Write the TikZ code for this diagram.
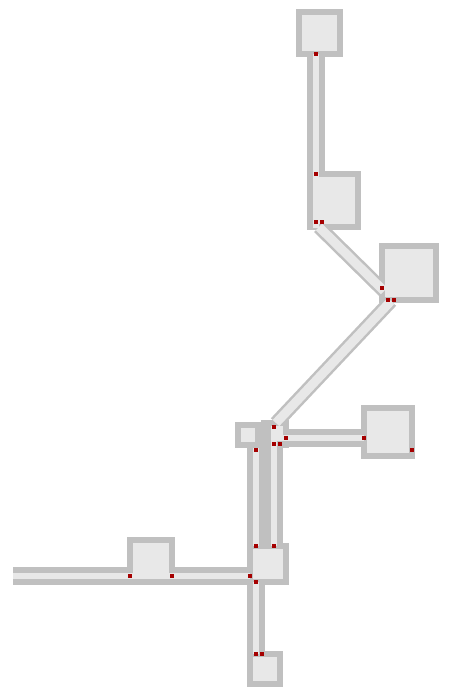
\documentclass[tikz,border=0pt]{standalone}
\definecolor{wallgray}{RGB}{192,192,192}
\definecolor{floorgray}{RGB}{232,232,232}
\definecolor{doorred}{RGB}{165,0,0}
\tikzset{
  corrwall/.style={draw=wallgray, line width=18pt},
  corrfloor/.style={draw=floorgray, line width=6.5pt},
  diagwall/.style={draw=wallgray, line width=14pt},
  diagfloor/.style={draw=floorgray, line width=9pt},
  roomwall/.style={fill=wallgray},
  roomfloor/.style={fill=floorgray},
  door/.style={fill=doorred}
}
\newcommand{\roomat}[4]{%
  \fill[roomwall] (#1,#2) rectangle (#3,#4);}
\newcommand{\roomin}[4]{%
  \fill[roomfloor] ({#1+6},{#2+6}) rectangle ({#3-6},{#4-6});}
\newcommand{\doorat}[2]{%
  \fill[door] ({#1-2},{#2-2}) rectangle ({#1+2},{#2+2});}
\begin{document}
\begin{tikzpicture}[x=1pt,y=-1pt]
\useasboundingbox (0,0) rectangle (457,699);
\fill[white] (0,0) rectangle (457,699);
% corridor end points
\coordinate (c1a) at (316,54);  \coordinate (c1b) at (316,228);
\coordinate (c2a) at (319,227); \coordinate (c2b) at (384,291);
\coordinate (c3a) at (391,301); \coordinate (c3b) at (276,423);
\coordinate (c4a) at (277,438); \coordinate (c4b) at (364,438);
\coordinate (c5a) at (256,448); \coordinate (c5b) at (256,546);
\coordinate (c6a) at (274,426); \coordinate (c6b) at (274,546);
\coordinate (c7a) at (13,576);  \coordinate (c7b) at (250,576);
\coordinate (c8a) at (256,582); \coordinate (c8b) at (256,654);
% ---- walls ----
\roomat{296}{9}{343}{57}
\roomat{307}{171}{361}{230}
\roomat{379}{243}{439}{303}
\roomat{235}{422}{261}{448}
\fill[roomwall] (261,420) rectangle (289,448);
\roomat{361}{405}{415}{459}
\roomat{247}{543}{289}{585}
\roomat{127}{537}{175}{585}
\roomat{247}{651}{283}{687}
\draw[corrwall] (316,50) -- (c1b);
\draw[diagwall] (c2a) -- (c2b);
\draw[diagwall] (c3a) -- (c3b);
\draw[corrwall] (c4a) -- (c4b);
\draw[corrwall] (c5a) -- (c5b);
\draw[corrwall] (c6a) -- (c6b);
\draw[corrwall] (c7a) -- (c7b);
\draw[corrwall] (c8a) -- (c8b);
% ---- floors ----
\roomin{296}{9}{343}{57}
\fill[roomfloor] (313,177) rectangle (355,224);
\roomin{379}{243}{439}{303}
\roomin{235}{422}{261}{448}
\fill[roomfloor] (271,426) rectangle (283,441);
\roomin{361}{405}{415}{459}
\roomin{247}{543}{289}{585}
\fill[roomfloor] (133,543) rectangle (169,579);
\roomin{247}{651}{283}{687}
\draw[corrfloor] (c1a) -- (c1b);
\draw[diagfloor] (c2a) -- (c2b);
\draw[diagfloor] (c3a) -- (c3b);
\draw[corrfloor] (c4a) -- (c4b);
\draw[corrfloor] (c5a) -- (c5b);
\draw[corrfloor] (c6a) -- (c6b);
\draw[corrfloor] (c7a) -- (c7b);
\draw[corrfloor] (c8a) -- (c8b);
% ---- doors ----
\doorat{316}{54}
\doorat{316}{174}
\doorat{316}{222}
\doorat{322}{222}
\doorat{382}{288}
\doorat{388}{300}
\doorat{394}{300}
\doorat{274}{427}
\doorat{286}{438}
\doorat{274}{444}
\doorat{280}{444}
\doorat{256}{450}
\doorat{364}{438}
\doorat{412}{450}
\doorat{256}{546}
\doorat{274}{546}
\doorat{130}{576}
\doorat{172}{576}
\doorat{250}{576}
\doorat{256}{582}
\doorat{256}{654}
\doorat{262}{654}
\end{tikzpicture}
\end{document}
